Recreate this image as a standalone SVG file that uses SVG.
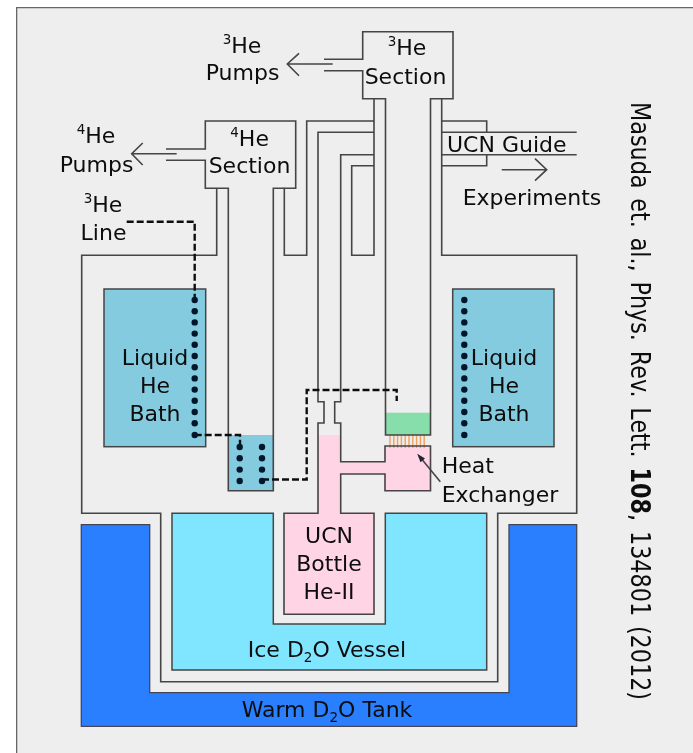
<svg xmlns="http://www.w3.org/2000/svg" width="693" height="753" viewBox="0 0 693 753">
<style>
text{font-family:"DejaVu Sans",sans-serif;font-size:22px;fill:#0c0c0c}
.m{text-anchor:middle}
.w{fill:none;stroke:#444;stroke-width:1.600}
.s{font-size:13.500px}
.d{fill:#04182c}
.dash{fill:none;stroke:#111;stroke-width:2.400;stroke-dasharray:7 3}
.ar{fill:none;stroke:#444;stroke-width:1.600}
.fin{stroke:#f0a060;stroke-width:1.400}
</style>
<defs><filter id="soft" x="0" y="0" width="100%" height="100%"><feGaussianBlur stdDeviation="0.4"/></filter></defs>
<rect width="693" height="753" fill="#fff"/>
<g filter="url(#soft)">
<rect x="16.500" y="7.500" width="677" height="746" fill="#eee"/>
<path d="M693 7.500H16.500V753" fill="none" stroke="#666" stroke-width="1.600"/>
<g id="warm-tank">
<path d="M81.300 524.700H149.700V692.700H509V524.700H576.700V726.300H81.300Z" fill="#2a7fff" stroke="#445" stroke-width="1.300"/>
<text x="327" y="717" class="m">Warm D<tspan class="s" dy="5">2</tspan><tspan dy="-5">O Tank</tspan></text>
</g>
<g id="ice-vessel">
<path d="M172 513.300H273.300V624H385.300V513.300H486.700V670H172Z" fill="#80e5ff" stroke="#444" stroke-width="1.500"/>
<text x="327" y="656.700" class="m">Ice D<tspan class="s" dy="5">2</tspan><tspan dy="-5">O Vessel</tspan></text>
</g>
<g id="bath-left">
<rect x="104" y="289" width="101.700" height="157.700" fill="#84cbe0" stroke="#444" stroke-width="1.500"/>
<text x="155" y="365" class="m">Liquid</text><text x="155" y="393" class="m">He</text><text x="155" y="421" class="m">Bath</text>
</g>
<g id="bath-right">
<rect x="452.700" y="289" width="101.300" height="157.700" fill="#84cbe0" stroke="#444" stroke-width="1.500"/>
<text x="504" y="365" class="m">Liquid</text><text x="504" y="393" class="m">He</text><text x="504" y="421" class="m">Bath</text>
</g>
<g id="he4-pot">
<rect x="228.300" y="435" width="45" height="55.700" fill="#84cbe0"/>
</g>
<g id="ucn-bottle">
<path d="M318 435H340.700V461.700H385V446H430.500V490.700H385V474H340.700V513.300H374V614.300H284V513.300H318Z" fill="#ffd5e5"/>
<text x="329" y="543.300" class="m">UCN</text><text x="329" y="571" class="m">Bottle</text><text x="329" y="599" class="m">He-II</text>
</g>
<g id="heat-exchanger">
<rect x="385.500" y="412.700" width="45" height="22.300" fill="#87deaa"/>
<path class="fin" d="M390 435V448M393.800 435V448M397.600 435V448M401.400 435V448M405.200 435V448M409 435V448M412.800 435V448M416.600 435V448M420.400 435V448M424.200 435V448"/>
<text x="441.700" y="473.300">Heat</text><text x="441.700" y="501.700">Exchanger</text>
</g>
<g id="connectors">
<path class="w" d="M216.700 188.300V255.300H81.700V513.300H160.700V681.700H497.700V513.300H576.700V255.300H441.700V98.700H453V31.700H362.700V59.300H324"/>
<path class="w" d="M324 70.700H362.700V98.700H374V255.300H351.700V165.700H374"/>
<path class="w" d="M374 98.700H385.500V435H430.500V98.700H441.700"/>
<path class="w" d="M166 149H205.300V121H295.700V188.300H284.300V255.300H306.700V121H374"/>
<path class="w" d="M166 160.300H205.300V188.300H228.300V490.700H273.300V188.300H284.300"/>
<path class="w" d="M374 132.300H318V401.700H324V423H318V513.300H284V614.300H374V513.300H340.700V474H385V490.700H430.500V446H385V461.700H340.700V423H334.700V401.700H340.700V154.700H374"/>
<path class="w" d="M441.700 121H486.700V132.300M441.700 132.300H576.700M441.700 154.700H576.700M486.700 154.700V165.700H441.700"/>
<path class="ar" d="M332.700 64H287.300M299 53.300L287.300 64L299 75.700"/>
<path class="ar" d="M176.700 153.700H131.700M142.700 143L131.700 153.700L142.700 165"/>
<path class="ar" d="M501.700 169.700H546.700M535 158.700L546.700 169.700L535 180.700"/>
<path d="M440.300 481.700L420 457" fill="none" stroke="#444" stroke-width="1.600"/>
<path d="M417.200 453.800L425 458.500L420.500 462.300Z" fill="#223"/>
<path class="dash" d="M126.700 221.700H194.700V300"/>
<path class="dash" d="M194.700 435H240V447"/>
<path class="dash" d="M262 479.500H306.700V390H396.700V401"/>
</g>
<g id="dots">
<g class="d">
<circle cx="194.700" cy="300" r="3.200"/><circle cx="194.700" cy="311.200" r="3.200"/><circle cx="194.700" cy="322.400" r="3.200"/><circle cx="194.700" cy="333.600" r="3.200"/><circle cx="194.700" cy="344.800" r="3.200"/><circle cx="194.700" cy="356" r="3.200"/><circle cx="194.700" cy="367.200" r="3.200"/><circle cx="194.700" cy="378.400" r="3.200"/><circle cx="194.700" cy="389.600" r="3.200"/><circle cx="194.700" cy="400.800" r="3.200"/><circle cx="194.700" cy="412" r="3.200"/><circle cx="194.700" cy="423.200" r="3.200"/><circle cx="194.700" cy="435" r="3.200"/>
<circle cx="464.300" cy="300" r="3.200"/><circle cx="464.300" cy="311.200" r="3.200"/><circle cx="464.300" cy="322.400" r="3.200"/><circle cx="464.300" cy="333.600" r="3.200"/><circle cx="464.300" cy="344.800" r="3.200"/><circle cx="464.300" cy="356" r="3.200"/><circle cx="464.300" cy="367.200" r="3.200"/><circle cx="464.300" cy="378.400" r="3.200"/><circle cx="464.300" cy="389.600" r="3.200"/><circle cx="464.300" cy="400.800" r="3.200"/><circle cx="464.300" cy="412" r="3.200"/><circle cx="464.300" cy="423.200" r="3.200"/><circle cx="464.300" cy="435" r="3.200"/>
<circle cx="239.700" cy="447" r="3.200"/><circle cx="239.700" cy="458.300" r="3.200"/><circle cx="239.700" cy="469.600" r="3.200"/><circle cx="239.700" cy="481" r="3.200"/>
<circle cx="262" cy="447" r="3.200"/><circle cx="262" cy="458.300" r="3.200"/><circle cx="262" cy="469.600" r="3.200"/><circle cx="262" cy="481" r="3.200"/>
</g>
</g>
<g id="he3-section">
<text x="407" y="55" class="m"><tspan class="s" dy="-9">3</tspan><tspan dy="9">He</tspan></text>
<text x="405.500" y="83.500" class="m">Section</text>
</g>
<g id="he4-section">
<text x="249.600" y="146" class="m"><tspan class="s" dy="-9">4</tspan><tspan dy="9">He</tspan></text>
<text x="249.500" y="173" class="m">Section</text>
</g>
<g id="he3-pumps">
<text x="242" y="52.700" class="m"><tspan class="s" dy="-9">3</tspan><tspan dy="9">He</tspan></text>
<text x="242.500" y="80" class="m">Pumps</text>
</g>
<g id="he4-pumps">
<text x="96" y="143" class="m"><tspan class="s" dy="-9">4</tspan><tspan dy="9">He</tspan></text>
<text x="96.500" y="171.700" class="m">Pumps</text>
</g>
<g id="he3-line">
<text x="103" y="211.700" class="m"><tspan class="s" dy="-9">3</tspan><tspan dy="9">He</tspan></text>
<text x="103.500" y="240" class="m">Line</text>
</g>
<g id="ucn-guide">
<text x="447" y="152">UCN Guide</text>
<text x="462.700" y="205">Experiments</text>
</g>
<g id="citation">
<text transform="translate(630.700 102) rotate(90) scale(1 1.230)" style="font-size:22.300px;word-spacing:2.750px">Masuda et. al., Phys. Rev. Lett. <tspan font-weight="bold">108</tspan>, 134801 (2012)</text>
</g>
</g>
</svg>
